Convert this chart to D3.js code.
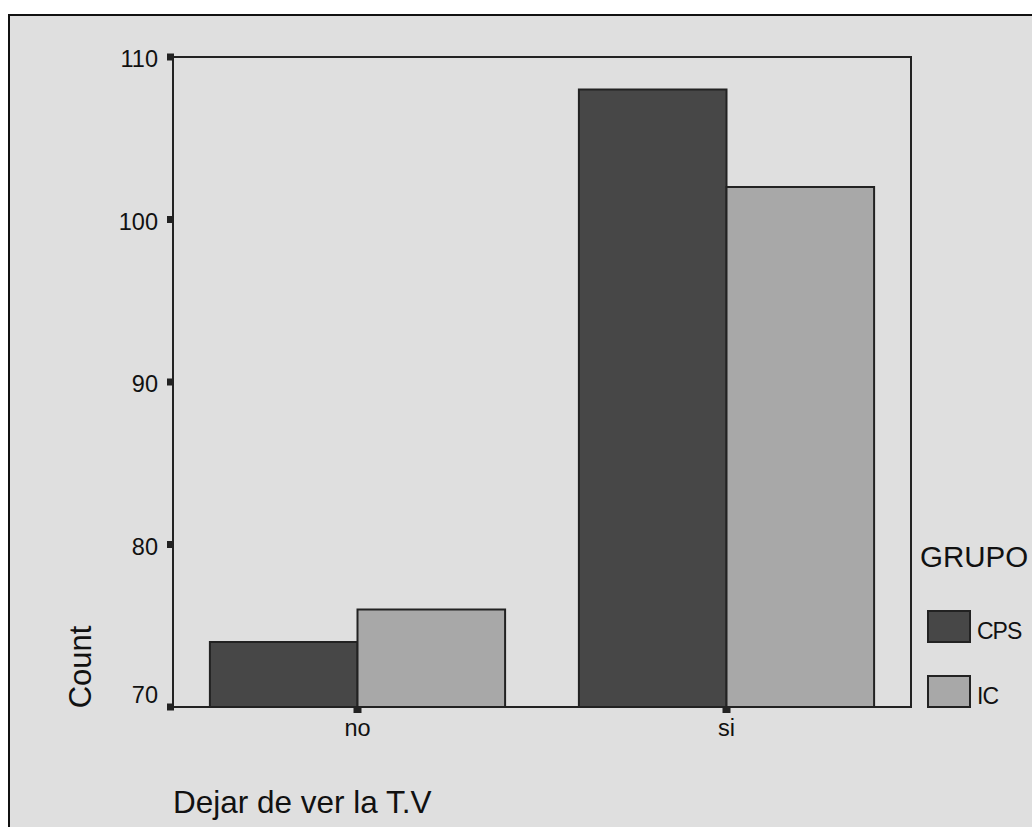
<!DOCTYPE html>
<html>
<head>
<meta charset="utf-8">
<script src="https://cdn.jsdelivr.net/npm/d3@7"></script>
<style>
  html, body { margin: 0; padding: 0; background: #ffffff; }
  svg { display: block; }
  text { font-family: "Liberation Sans", Arial, sans-serif; fill: #111; }
</style>
</head>
<body>
<svg id="chart" width="1032" height="827"></svg>
<script>
const categories = ["no", "si"];
const groups = ["CPS", "IC"];
const cpsValues = [74, 108];
const icValues = [76, 102];
const yTicks = [70, 80, 90, 100, 110];
const xTitle = "Dejar de ver la T.V";
const yTitle = "Count";
const legendTitle = "GRUPO";

const colors = { CPS: "#474747", IC: "#a8a8a8" };
const plot = { left: 173, right: 911, top: 57, bottom: 707 };

const svg = d3.select("#chart");

// outer frame (extends beyond right and bottom)
svg.append("rect")
  .attr("x", 9).attr("y", 15).attr("width", 1100).attr("height", 900)
  .attr("fill", "#dfdfdf").attr("stroke", "#111").attr("stroke-width", 2);

const x = d3.scaleBand().domain(categories)
  .range([plot.left, plot.right]).paddingInner(0.2).paddingOuter(0.1);
const xg = d3.scaleBand().domain(groups).range([0, x.bandwidth()]);
const y = d3.scaleLinear().domain([70, 110]).range([plot.bottom, plot.top]);

const data = categories.map((c, i) => ({ cat: c, CPS: cpsValues[i], IC: icValues[i] }));

// plot frame
svg.append("rect")
  .attr("x", plot.left).attr("y", plot.top)
  .attr("width", plot.right - plot.left).attr("height", plot.bottom - plot.top)
  .attr("fill", "none").attr("stroke", "#222").attr("stroke-width", 2);

// bars
const gBars = svg.append("g");
data.forEach(d => {
  groups.forEach(g => {
    gBars.append("rect")
      .attr("x", x(d.cat) + xg(g))
      .attr("y", y(d[g]))
      .attr("width", xg.bandwidth())
      .attr("height", y(70) - y(d[g]))
      .attr("fill", colors[g])
      .attr("stroke", "#222").attr("stroke-width", 2);
  });
});

// y axis ticks and labels
yTicks.forEach((t, i) => {
  svg.append("rect")
    .attr("x", plot.left - 6).attr("y", y(t) - 3.5)
    .attr("width", 7).attr("height", 7).attr("fill", "#222");
  svg.append("text")
    .attr("x", 158)
    .attr("y", i === 0 ? y(t) - 4 : y(t) + 10)
    .attr("text-anchor", "end")
    .attr("font-size", 23.5)
    .text(t);
});

// x axis ticks and labels
categories.forEach(c => {
  const cx = x(c) + x.bandwidth() / 2;
  svg.append("rect")
    .attr("x", cx - 4).attr("y", plot.bottom)
    .attr("width", 8).attr("height", 6).attr("fill", "#222");
  svg.append("text")
    .attr("x", cx).attr("y", 736)
    .attr("text-anchor", "middle")
    .attr("font-size", 23.5)
    .text(c);
});

// axis titles
svg.append("text")
  .attr("transform", "translate(91,667) rotate(-90)")
  .attr("text-anchor", "middle")
  .attr("font-size", 31)
  .text(yTitle);

svg.append("text")
  .attr("x", 173).attr("y", 813)
  .attr("font-size", 31.5)
  .text(xTitle);

// legend
svg.append("text")
  .attr("x", 920).attr("y", 567)
  .attr("font-size", 29.5)
  .text(legendTitle);

const legendY = { CPS: 611, IC: 676 };
groups.forEach(g => {
  svg.append("rect")
    .attr("x", 928).attr("y", legendY[g])
    .attr("width", 42).attr("height", 31)
    .attr("fill", colors[g]).attr("stroke", "#222").attr("stroke-width", 2);
  svg.append("text")
    .attr("x", 977).attr("y", legendY[g] + 28)
    .attr("font-size", 23)
    .attr("letter-spacing", -1)
    .text(g);
});
</script>
</body>
</html>
